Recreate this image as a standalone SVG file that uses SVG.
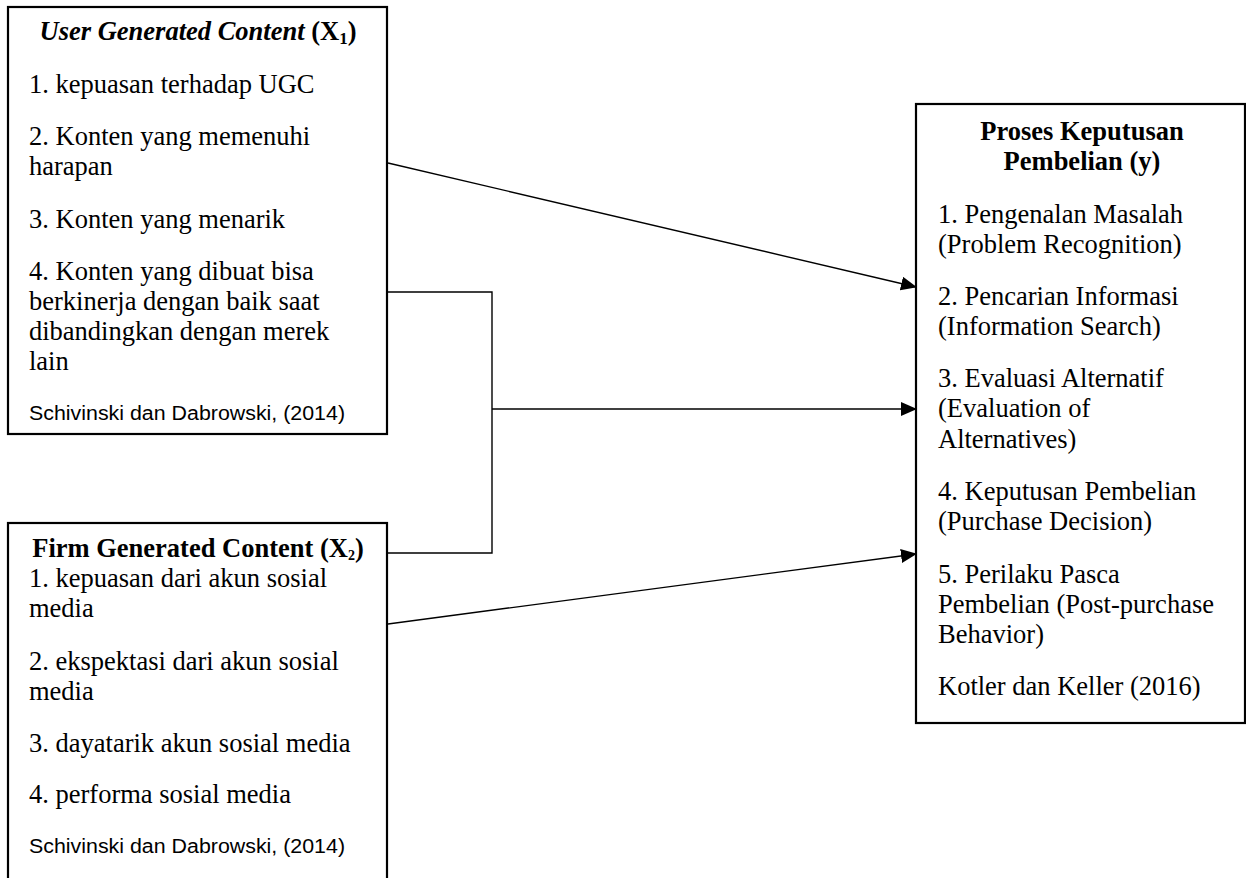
<svg xmlns="http://www.w3.org/2000/svg" width="1246" height="878" viewBox="0 0 1246 878">
<style>
.box{fill:#fff;stroke:#000;stroke-width:2.2}
.t{font-family:"Liberation Serif","Times New Roman",serif;font-size:26.5px;fill:#000}
.b{font-weight:bold}
.bi{font-weight:bold;font-style:italic}
.c{text-anchor:middle}
.s{font-family:"Liberation Sans",Arial,sans-serif;font-size:20px;fill:#000}
.ln{fill:none;stroke:#000;stroke-width:1.4}
</style>
<defs>
<marker id="ah" markerWidth="16" markerHeight="14" refX="15" refY="7" orient="auto" markerUnits="userSpaceOnUse">
<path d="M0,0 L16,7 L0,14 Z" fill="#000"/>
</marker>
</defs>
<g id="connectors">
<line class="ln" x1="388" y1="163" x2="916" y2="287" marker-end="url(#ah)"/>
<polyline class="ln" points="388,292 492,292 492,553 388,553"/>
<line class="ln" x1="492" y1="409" x2="916" y2="409" marker-end="url(#ah)"/>
<line class="ln" x1="388" y1="624" x2="916" y2="554" marker-end="url(#ah)"/>
</g>
<g id="node-ugc">
<rect class="box" x="8" y="7" width="379" height="427"/>
<text class="t c" x="198" y="40"><tspan class="bi">User Generated Content</tspan><tspan class="b"> (X</tspan><tspan class="b" font-size="17" dy="4">1</tspan><tspan class="b" dy="-4">)</tspan></text>
<text class="t" x="29" y="93">1. kepuasan terhadap UGC</text>
<text class="t" x="29" y="145">2. Konten yang memenuhi</text>
<text class="t" x="29" y="175">harapan</text>
<text class="t" x="29" y="228">3. Konten yang menarik</text>
<text class="t" x="29" y="280">4. Konten yang dibuat bisa</text>
<text class="t" x="29" y="310">berkinerja dengan baik saat</text>
<text class="t" x="29" y="340">dibandingkan dengan merek</text>
<text class="t" x="29" y="370">lain</text>
<text class="s" x="29" y="420" textLength="316" lengthAdjust="spacingAndGlyphs">Schivinski dan Dabrowski, (2014)</text>
</g>
<g id="node-fgc">
<rect class="box" x="8" y="523" width="379" height="370"/>
<text class="t b c" x="198" y="557" font-size="21.2">Firm Generated Content (X<tspan font-size="14" dy="3">2</tspan><tspan dy="-3">)</tspan></text>
<text class="t" x="29" y="587">1. kepuasan dari akun sosial</text>
<text class="t" x="29" y="617">media</text>
<text class="t" x="29" y="670">2. ekspektasi dari akun sosial</text>
<text class="t" x="29" y="700">media</text>
<text class="t" x="29" y="752">3. dayatarik akun sosial media</text>
<text class="t" x="29" y="803">4. performa sosial media</text>
<text class="s" x="29" y="853" textLength="316" lengthAdjust="spacingAndGlyphs">Schivinski dan Dabrowski, (2014)</text>
</g>
<g id="node-y">
<rect class="box" x="916" y="104" width="329" height="619"/>
<text class="t b c" x="1082" y="140">Proses Keputusan</text>
<text class="t b c" x="1082" y="170">Pembelian (y)</text>
<text class="t" x="938" y="223">1. Pengenalan Masalah</text>
<text class="t" x="938" y="253">(Problem Recognition)</text>
<text class="t" x="938" y="305">2. Pencarian Informasi</text>
<text class="t" x="938" y="335">(Information Search)</text>
<text class="t" x="938" y="387">3. Evaluasi Alternatif</text>
<text class="t" x="938" y="417">(Evaluation of</text>
<text class="t" x="938" y="448">Alternatives)</text>
<text class="t" x="938" y="500">4. Keputusan Pembelian</text>
<text class="t" x="938" y="530">(Purchase Decision)</text>
<text class="t" x="938" y="583">5. Perilaku Pasca</text>
<text class="t" x="938" y="613">Pembelian (Post-purchase</text>
<text class="t" x="938" y="643">Behavior)</text>
<text class="t" x="938" y="695">Kotler dan Keller (2016)</text>
</g>
</svg>
